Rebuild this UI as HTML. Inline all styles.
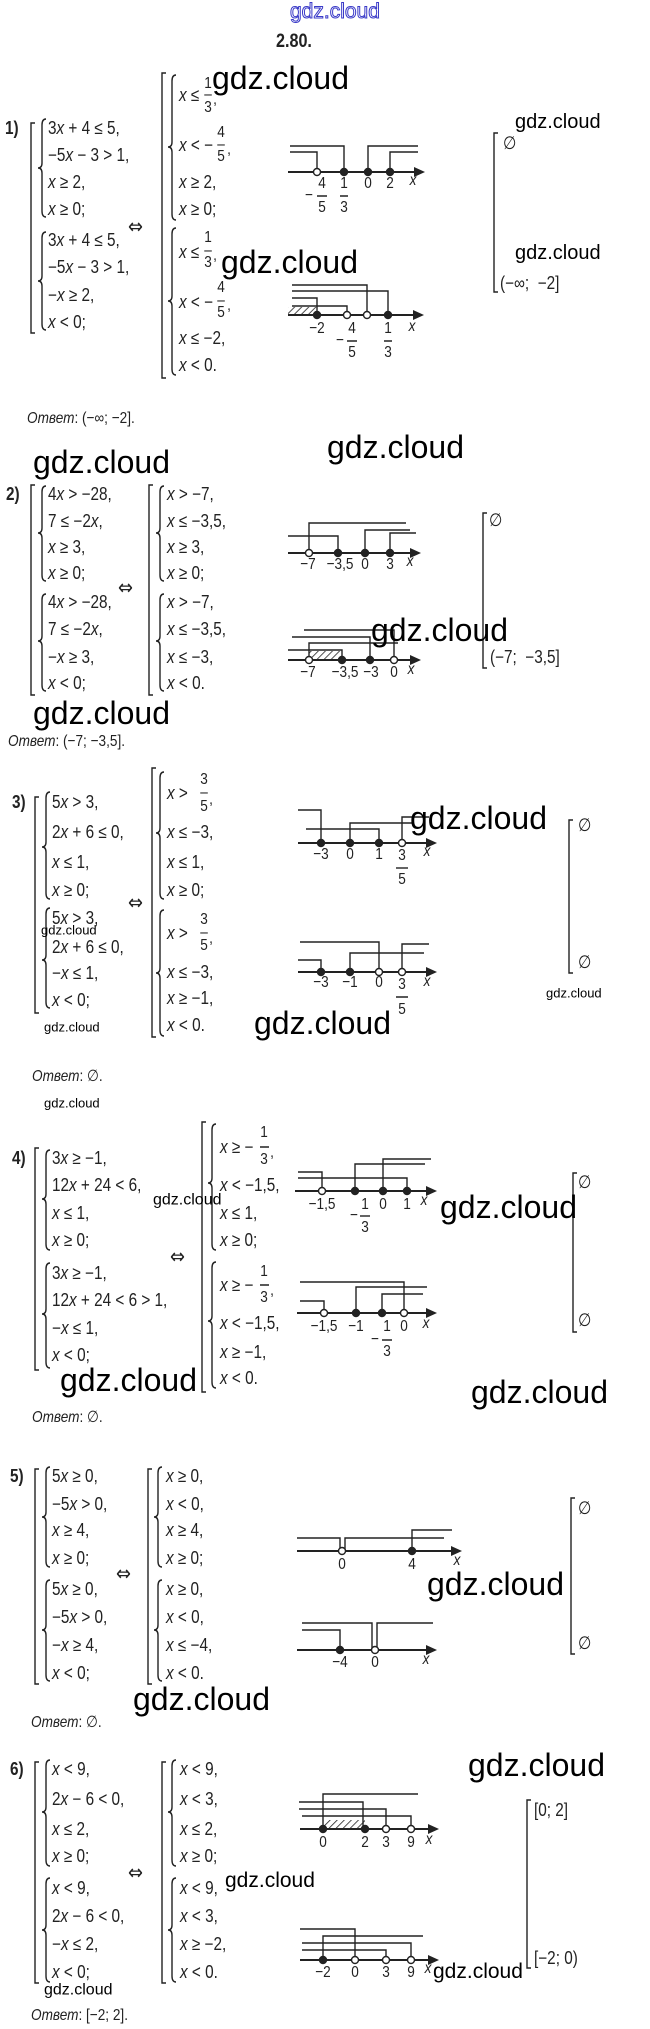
<!DOCTYPE html>
<html><head><meta charset="utf-8"><style>
html,body{margin:0;padding:0;background:#fff}
#p{position:relative;width:650px;height:2029px;overflow:hidden;background:#fff}
.f{position:absolute;font-family:"Liberation Sans",sans-serif;font-size:18px;line-height:18px;white-space:nowrap;transform:translateY(-50%) scaleX(.85);transform-origin:0 50%;color:#222}
.ar{font-family:"DejaVu Sans",sans-serif;font-size:21px;line-height:21px}
.n{position:absolute;font-family:"Liberation Sans",sans-serif;font-size:16px;line-height:16px;white-space:nowrap;transform:translate(-50%,-50%) scaleX(.85);color:#222}
.b{font-weight:bold}
.w{position:absolute;font-family:"Liberation Sans",sans-serif;font-size:32px;line-height:32px;white-space:nowrap;transform:translateY(-50%);color:#000}
.ws{position:absolute;font-family:"Liberation Sans",sans-serif;font-size:20px;line-height:20px;white-space:nowrap;transform:translateY(-50%);color:#000}
.wt{position:absolute;font-family:"Liberation Sans",sans-serif;font-size:13px;line-height:13px;white-space:nowrap;transform:translateY(-50%);color:#000}
i{font-style:italic}
svg{position:absolute;left:0;top:0}
</style></head><body><div id="p">
<svg width="650" height="2029" viewBox="0 0 650 2029">
<defs><pattern id="h" width="5" height="5" patternUnits="userSpaceOnUse" patternTransform="rotate(45)"><line x1="0" y1="0" x2="0" y2="5" stroke="#222" stroke-width="1.6"/></pattern></defs>
<g fill="none" stroke="#222" stroke-width="1.4">
<path d="M35 123H31V333H35"/><path d="M46 119Q42 119 42 125V163Q42 168 38 168Q42 168 42 173V211Q42 217 46 217"/>
<path d="M46 232Q42 232 42 238V276Q42 281 38 281Q42 281 42 286V324Q42 330 46 330"/>
<path d="M166 73H162V378H166"/><path d="M176 75Q172 75 172 81V142Q172 147 168 147Q172 147 172 152V214Q172 220 176 220"/>
<path d="M176 228Q172 228 172 234V296Q172 301 168 301Q172 301 172 306V369Q172 375 176 375"/>
<path d="M498 133H494V292H498"/>
<path d="M290 146H344V172M290 152H317V172M368 172V146H418M390 172V152H418"/>
<path d="M317 196H327M340 196H348M347 341H357M384 341H392"/>
<path d="M292 285H367V315M292 291H388V315M292 298H317V315M292 306H347V315"/>
<path d="M35 485H31V695H35"/><path d="M46 486Q42 486 42 492V528Q42 533 38 533Q42 533 42 538V575Q42 581 46 581"/>
<path d="M46 594Q42 594 42 600V636Q42 641 38 641Q42 641 42 646V685Q42 691 46 691"/>
<path d="M153 485H149V695H153"/><path d="M164 486Q160 486 160 492V528Q160 533 156 533Q160 533 160 538V575Q160 581 164 581"/>
<path d="M164 594Q160 594 160 600V636Q160 641 156 641Q160 641 160 646V685Q160 691 164 691"/>
<path d="M309 553V523H406M288 536H338V553M365 553V530H410M390 553V533H416"/>
<path d="M394 660V630H304M370 660V637H292M288 650H342V660M309 660V643H398"/>
<path d="M487 513H483V668H487"/>
<path d="M39 797H35V1013H39"/><path d="M50 792Q46 792 46 798V842Q46 847 42 847Q46 847 46 852V893Q46 899 50 899"/>
<path d="M50 908Q46 908 46 914V955Q46 960 42 960Q46 960 46 965V1002Q46 1008 50 1008"/>
<path d="M156 768H152V1037H156"/><path d="M164 772Q160 772 160 778V828Q160 833 156 833Q160 833 160 838V893Q160 899 164 899"/>
<path d="M164 910Q160 910 160 916V968Q160 973 156 973Q160 973 160 978V1030Q160 1036 164 1036"/>
<path d="M298 810H321V843M306 829H379V843M350 843V823H412M402 843V817H429"/>
<path d="M396 868H408"/>
<path d="M298 960H321V972M350 972V953H424M300 942H379V972M402 972V944H429M396 997H408"/>
<path d="M573 820H569V973H573"/>
<path d="M39 1148H35V1370H39"/><path d="M50 1150Q46 1150 46 1156V1194Q46 1199 42 1199Q46 1199 46 1204V1244Q46 1250 50 1250"/>
<path d="M50 1263Q46 1263 46 1269V1309Q46 1314 42 1314Q46 1314 46 1319V1362Q46 1368 50 1368"/>
<path d="M206 1122H202V1392H206"/><path d="M216 1124Q212 1124 212 1130V1178Q212 1183 208 1183Q212 1183 212 1188V1244Q212 1250 216 1250"/>
<path d="M216 1262Q212 1262 212 1268V1316Q212 1321 208 1321Q212 1321 212 1326V1382Q212 1388 216 1388"/>
<path d="M260 1147H269M260 1285H269"/>
<path d="M383 1191V1159H431M355 1191V1164H425M298 1172H322V1191M298 1178H407V1191"/>
<path d="M360 1216H370"/>
<path d="M300 1282H404V1313M356 1313V1287H427M382 1313V1294H423M300 1301H324V1313M382 1340H392"/>
<path d="M577 1173H573V1332H577"/>
<path d="M39 1469H35V1684H39"/><path d="M50 1467Q46 1467 46 1473V1512Q46 1517 42 1517Q46 1517 46 1522V1561Q46 1567 50 1567"/>
<path d="M50 1580Q46 1580 46 1586V1625Q46 1630 42 1630Q46 1630 46 1635V1675Q46 1681 50 1681"/>
<path d="M152 1469H148V1684H152"/><path d="M162 1467Q158 1467 158 1473V1512Q158 1517 154 1517Q158 1517 158 1522V1561Q158 1567 162 1567"/>
<path d="M162 1580Q158 1580 158 1586V1625Q158 1630 154 1630Q158 1630 158 1635V1675Q158 1681 162 1681"/>
<path d="M297 1538H340V1551M345 1551V1538H444M412 1551V1530H452"/>
<path d="M302 1623H372V1650M377 1650V1623H433M302 1630H340V1650"/>
<path d="M575 1498H571V1654H575"/>
<path d="M39 1762H35V1983H39"/><path d="M50 1760Q46 1760 46 1766V1807Q46 1812 42 1812Q46 1812 46 1817V1860Q46 1866 50 1866"/>
<path d="M50 1878Q46 1878 46 1884V1925Q46 1930 42 1930Q46 1930 46 1935V1976Q46 1982 50 1982"/>
<path d="M166 1762H162V1983H166"/><path d="M176 1760Q172 1760 172 1766V1807Q172 1812 168 1812Q172 1812 172 1817V1860Q172 1866 176 1866"/>
<path d="M176 1878Q172 1878 172 1884V1925Q172 1930 168 1930Q172 1930 172 1935V1976Q172 1982 176 1982"/>
<path d="M323 1829V1794H418M299 1802H363V1829M299 1809H386V1829M302 1816H411V1829"/>
<path d="M300 1929H355V1960M323 1960V1936H423M302 1943H411V1960M302 1950H386V1960"/>
<path d="M531 1800H527V1968H531"/>
</g>
<rect x="288" y="307" width="29" height="8" fill="url(#h)"/>
<rect x="309" y="651" width="33" height="9" fill="url(#h)"/>
<rect x="323" y="1820" width="42" height="9" fill="url(#h)"/>
<g stroke="#222" stroke-width="2">
<line x1="288" y1="172" x2="418" y2="172"/><line x1="288" y1="315" x2="417" y2="315"/>
<line x1="288" y1="553" x2="414" y2="553"/><line x1="288" y1="660" x2="414" y2="660"/>
<line x1="298" y1="843" x2="430" y2="843"/><line x1="298" y1="972" x2="430" y2="972"/>
<line x1="295" y1="1191" x2="430" y2="1191"/><line x1="297" y1="1313" x2="430" y2="1313"/>
<line x1="297" y1="1551" x2="455" y2="1551"/><line x1="297" y1="1650" x2="430" y2="1650"/>
<line x1="300" y1="1829" x2="432" y2="1829"/><line x1="300" y1="1960" x2="432" y2="1960"/>
</g>
<g fill="#222">
<polygon points="425,172 414,167 414,177"/><polygon points="424,315 413,310 413,320"/>
<polygon points="421,553 410,548 410,558"/><polygon points="421,660 410,655 410,665"/>
<polygon points="437,843 426,838 426,848"/><polygon points="437,972 426,967 426,977"/>
<polygon points="437,1191 426,1186 426,1196"/><polygon points="437,1313 426,1308 426,1318"/>
<polygon points="462,1551 451,1546 451,1556"/><polygon points="437,1650 426,1645 426,1655"/>
<polygon points="439,1829 428,1824 428,1834"/><polygon points="439,1960 428,1955 428,1965"/>
</g>
<g stroke="#222" stroke-width="1.4">
<circle cx="317" cy="172" r="3.5" fill="#fff"/><circle cx="344" cy="172" r="3.5" fill="#222"/><circle cx="368" cy="172" r="3.5" fill="#222"/><circle cx="390" cy="172" r="3.5" fill="#222"/>
<circle cx="317" cy="315" r="3.5" fill="#222"/><circle cx="347" cy="315" r="3.5" fill="#fff"/><circle cx="367" cy="315" r="3.5" fill="#fff"/><circle cx="388" cy="315" r="3.5" fill="#222"/>
<circle cx="309" cy="553" r="3.5" fill="#fff"/><circle cx="338" cy="553" r="3.5" fill="#222"/><circle cx="365" cy="553" r="3.5" fill="#222"/><circle cx="390" cy="553" r="3.5" fill="#222"/>
<circle cx="309" cy="660" r="3.5" fill="#fff"/><circle cx="342" cy="660" r="3.5" fill="#222"/><circle cx="370" cy="660" r="3.5" fill="#222"/><circle cx="394" cy="660" r="3.5" fill="#fff"/>
<circle cx="321" cy="843" r="3.5" fill="#222"/><circle cx="350" cy="843" r="3.5" fill="#222"/><circle cx="379" cy="843" r="3.5" fill="#222"/><circle cx="402" cy="843" r="3.5" fill="#fff"/>
<circle cx="321" cy="972" r="3.5" fill="#222"/><circle cx="350" cy="972" r="3.5" fill="#222"/><circle cx="379" cy="972" r="3.5" fill="#fff"/><circle cx="402" cy="972" r="3.5" fill="#fff"/>
<circle cx="322" cy="1191" r="3.5" fill="#fff"/><circle cx="355" cy="1191" r="3.5" fill="#222"/><circle cx="383" cy="1191" r="3.5" fill="#222"/><circle cx="407" cy="1191" r="3.5" fill="#222"/>
<circle cx="324" cy="1313" r="3.5" fill="#fff"/><circle cx="356" cy="1313" r="3.5" fill="#222"/><circle cx="382" cy="1313" r="3.5" fill="#222"/><circle cx="404" cy="1313" r="3.5" fill="#fff"/>
<circle cx="342" cy="1551" r="3.5" fill="#fff"/><circle cx="412" cy="1551" r="3.5" fill="#222"/>
<circle cx="340" cy="1650" r="3.5" fill="#222"/><circle cx="375" cy="1650" r="3.5" fill="#fff"/>
<circle cx="323" cy="1829" r="3.5" fill="#222"/><circle cx="365" cy="1829" r="3.5" fill="#222"/><circle cx="386" cy="1829" r="3.5" fill="#fff"/><circle cx="411" cy="1829" r="3.5" fill="#fff"/>
<circle cx="323" cy="1960" r="3.5" fill="#222"/><circle cx="355" cy="1960" r="3.5" fill="#fff"/><circle cx="386" cy="1960" r="3.5" fill="#fff"/><circle cx="411" cy="1960" r="3.5" fill="#fff"/>
</g>
</svg>

<div class="ws" style="left:290px;top:12px;color:#fff;-webkit-text-stroke:1px #3a3ac8;font-size:21px">gdz.cloud</div>
<div class="f b" style="left:276px;top:42px;font-size:19px">2.80.</div>

<div class="f b" style="left:5px;top:128px">1)</div>
<div class="f" style="left:48px;top:128px">3<i>x</i> + 4 ≤ 5,</div>
<div class="f" style="left:48px;top:155px">−5<i>x</i> − 3 &gt; 1,</div>
<div class="f" style="left:48px;top:182px"><i>x</i> ≥ 2,</div>
<div class="f" style="left:48px;top:209px"><i>x</i> ≥ 0;</div>
<div class="f" style="left:48px;top:240px">3<i>x</i> + 4 ≤ 5,</div>
<div class="f" style="left:48px;top:267px">−5<i>x</i> − 3 &gt; 1,</div>
<div class="f" style="left:48px;top:295px">−<i>x</i> ≥ 2,</div>
<div class="f" style="left:48px;top:322px"><i>x</i> &lt; 0;</div>
<div class="f ar" style="left:128px;top:227px">⇔</div>
<div class="f" style="left:179px;top:95px"><i>x</i> ≤ </div><div class="n" style="left:208px;top:84px">1</div><div class="n" style="left:208px;top:95px">–</div><div class="n" style="left:208px;top:108px">3</div><div class="n" style="left:215px;top:100px">,</div>
<div class="f" style="left:179px;top:145px"><i>x</i> &lt; −</div><div class="n" style="left:221px;top:133px">4</div><div class="n" style="left:221px;top:145px">–</div><div class="n" style="left:221px;top:157px">5</div><div class="n" style="left:229px;top:150px">,</div>
<div class="f" style="left:179px;top:182px"><i>x</i> ≥ 2,</div>
<div class="f" style="left:179px;top:209px"><i>x</i> ≥ 0;</div>
<div class="f" style="left:179px;top:252px"><i>x</i> ≤ </div><div class="n" style="left:208px;top:238px">1</div><div class="n" style="left:208px;top:251px">–</div><div class="n" style="left:208px;top:263px">3</div><div class="n" style="left:215px;top:256px">,</div>
<div class="f" style="left:179px;top:302px"><i>x</i> &lt; −</div><div class="n" style="left:221px;top:288px">4</div><div class="n" style="left:221px;top:301px">–</div><div class="n" style="left:221px;top:313px">5</div><div class="n" style="left:229px;top:306px">,</div>
<div class="f" style="left:179px;top:338px"><i>x</i> ≤ −2,</div>
<div class="f" style="left:179px;top:365px"><i>x</i> &lt; 0.</div>
<div class="n" style="left:322px;top:184px">4</div><div class="n" style="left:309px;top:196px">−</div><div class="n" style="left:322px;top:208px">5</div>
<div class="n" style="left:344px;top:184px">1</div><div class="n" style="left:344px;top:208px">3</div>
<div class="n" style="left:368px;top:184px">0</div><div class="n" style="left:390px;top:184px">2</div><div class="n" style="left:413px;top:181px"><i>x</i></div>
<div class="n" style="left:317px;top:329px">−2</div>
<div class="n" style="left:352px;top:329px">4</div><div class="n" style="left:340px;top:341px">−</div><div class="n" style="left:352px;top:353px">5</div>
<div class="n" style="left:388px;top:329px">1</div><div class="n" style="left:388px;top:353px">3</div><div class="n" style="left:412px;top:327px"><i>x</i></div>
<div class="f" style="left:503px;top:143px">∅</div>
<div class="f" style="left:500px;top:283px">(−∞;&nbsp; −2]</div>
<div class="ws" style="left:515px;top:122px">gdz.cloud</div>
<div class="ws" style="left:515px;top:253px">gdz.cloud</div>
<div class="w" style="left:212px;top:78px">gdz.cloud</div>
<div class="w" style="left:221px;top:262px">gdz.cloud</div>
<div class="f" style="left:27px;top:419px;font-size:16px"><i>Ответ</i>: (−∞; −2].</div>

<div class="w" style="left:33px;top:462px">gdz.cloud</div>
<div class="w" style="left:327px;top:447px">gdz.cloud</div>
<div class="f b" style="left:6px;top:494px">2)</div>
<div class="f" style="left:48px;top:494px">4<i>x</i> &gt; −28,</div>
<div class="f" style="left:48px;top:521px">7 ≤ −2<i>x</i>,</div>
<div class="f" style="left:48px;top:547px"><i>x</i> ≥ 3,</div>
<div class="f" style="left:48px;top:573px"><i>x</i> ≥ 0;</div>
<div class="f" style="left:48px;top:602px">4<i>x</i> &gt; −28,</div>
<div class="f" style="left:48px;top:629px">7 ≤ −2<i>x</i>,</div>
<div class="f" style="left:48px;top:657px">−<i>x</i> ≥ 3,</div>
<div class="f" style="left:48px;top:683px"><i>x</i> &lt; 0;</div>
<div class="f ar" style="left:118px;top:588px">⇔</div>
<div class="f" style="left:167px;top:494px"><i>x</i> &gt; −7,</div>
<div class="f" style="left:167px;top:521px"><i>x</i> ≤ −3,5,</div>
<div class="f" style="left:167px;top:547px"><i>x</i> ≥ 3,</div>
<div class="f" style="left:167px;top:573px"><i>x</i> ≥ 0;</div>
<div class="f" style="left:167px;top:602px"><i>x</i> &gt; −7,</div>
<div class="f" style="left:167px;top:629px"><i>x</i> ≤ −3,5,</div>
<div class="f" style="left:167px;top:657px"><i>x</i> ≤ −3,</div>
<div class="f" style="left:167px;top:683px"><i>x</i> &lt; 0.</div>
<div class="n" style="left:308px;top:565px">−7</div><div class="n" style="left:340px;top:565px">−3,5</div><div class="n" style="left:365px;top:565px">0</div><div class="n" style="left:390px;top:565px">3</div><div class="n" style="left:410px;top:562px"><i>x</i></div>
<div class="n" style="left:308px;top:673px">−7</div><div class="n" style="left:345px;top:673px">−3,5</div><div class="n" style="left:371px;top:673px">−3</div><div class="n" style="left:394px;top:673px">0</div><div class="n" style="left:411px;top:670px"><i>x</i></div>
<div class="w" style="left:371px;top:630px">gdz.cloud</div>
<div class="f" style="left:489px;top:520px">∅</div>
<div class="f" style="left:490px;top:657px">(−7;&nbsp; −3,5]</div>
<div class="w" style="left:33px;top:713px">gdz.cloud</div>
<div class="f" style="left:8px;top:742px;font-size:16px"><i>Ответ</i>: (−7; −3,5].</div>

<div class="f b" style="left:12px;top:802px">3)</div>
<div class="f" style="left:52px;top:802px">5<i>x</i> &gt; 3,</div>
<div class="f" style="left:52px;top:832px">2<i>x</i> + 6 ≤ 0,</div>
<div class="f" style="left:52px;top:862px"><i>x</i> ≤ 1,</div>
<div class="f" style="left:52px;top:890px"><i>x</i> ≥ 0;</div>
<div class="f" style="left:52px;top:918px">5<i>x</i> &gt; 3,</div>
<div class="f" style="left:52px;top:947px">2<i>x</i> + 6 ≤ 0,</div>
<div class="f" style="left:52px;top:973px">−<i>x</i> ≤ 1,</div>
<div class="f" style="left:52px;top:1000px"><i>x</i> &lt; 0;</div>
<div class="wt" style="left:41px;top:930px">gdz.cloud</div>
<div class="f ar" style="left:128px;top:903px">⇔</div>
<div class="f" style="left:167px;top:793px"><i>x</i> &gt;</div><div class="n" style="left:204px;top:780px">3</div><div class="n" style="left:204px;top:793px">–</div><div class="n" style="left:204px;top:807px">5</div><div class="n" style="left:211px;top:800px">,</div>
<div class="f" style="left:167px;top:832px"><i>x</i> ≤ −3,</div>
<div class="f" style="left:167px;top:862px"><i>x</i> ≤ 1,</div>
<div class="f" style="left:167px;top:890px"><i>x</i> ≥ 0;</div>
<div class="f" style="left:167px;top:933px"><i>x</i> &gt;</div><div class="n" style="left:204px;top:920px">3</div><div class="n" style="left:204px;top:933px">–</div><div class="n" style="left:204px;top:946px">5</div><div class="n" style="left:211px;top:939px">,</div>
<div class="f" style="left:167px;top:972px"><i>x</i> ≤ −3,</div>
<div class="f" style="left:167px;top:998px"><i>x</i> ≥ −1,</div>
<div class="f" style="left:167px;top:1025px"><i>x</i> &lt; 0.</div>
<div class="n" style="left:321px;top:855px">−3</div><div class="n" style="left:350px;top:855px">0</div><div class="n" style="left:379px;top:855px">1</div><div class="n" style="left:402px;top:856px">3</div><div class="n" style="left:402px;top:880px">5</div><div class="n" style="left:427px;top:852px"><i>x</i></div>
<div class="n" style="left:321px;top:983px">−3</div><div class="n" style="left:350px;top:983px">−1</div><div class="n" style="left:379px;top:983px">0</div><div class="n" style="left:402px;top:985px">3</div><div class="n" style="left:402px;top:1010px">5</div><div class="n" style="left:427px;top:982px"><i>x</i></div>
<div class="w" style="left:410px;top:818px">gdz.cloud</div>
<div class="f" style="left:578px;top:825px">∅</div>
<div class="f" style="left:578px;top:962px">∅</div>
<div class="wt" style="left:546px;top:993px">gdz.cloud</div>
<div class="w" style="left:254px;top:1023px">gdz.cloud</div>
<div class="wt" style="left:44px;top:1027px">gdz.cloud</div>
<div class="f" style="left:32px;top:1077px;font-size:16px"><i>Ответ</i>: ∅.</div>
<div class="wt" style="left:44px;top:1103px">gdz.cloud</div>

<div class="f b" style="left:12px;top:1158px">4)</div>
<div class="f" style="left:52px;top:1158px">3<i>x</i> ≥ −1,</div>
<div class="f" style="left:52px;top:1185px">12<i>x</i> + 24 &lt; 6,</div>
<div class="f" style="left:52px;top:1213px"><i>x</i> ≤ 1,</div>
<div class="f" style="left:52px;top:1240px"><i>x</i> ≥ 0;</div>
<div class="f" style="left:52px;top:1273px">3<i>x</i> ≥ −1,</div>
<div class="f" style="left:52px;top:1300px">12<i>x</i> + 24 &lt; 6 &gt; 1,</div>
<div class="f" style="left:52px;top:1328px">−<i>x</i> ≤ 1,</div>
<div class="f" style="left:52px;top:1355px"><i>x</i> &lt; 0;</div>
<div class="wt" style="left:153px;top:1200px;font-size:16px">gdz.cloud</div>
<div class="f ar" style="left:170px;top:1257px">⇔</div>
<div class="f" style="left:220px;top:1147px"><i>x</i> ≥ −</div><div class="n" style="left:264px;top:1133px">1</div><div class="n" style="left:264px;top:1160px">3</div><div class="n" style="left:272px;top:1153px">,</div>
<div class="f" style="left:220px;top:1185px"><i>x</i> &lt; −1,5,</div>
<div class="f" style="left:220px;top:1213px"><i>x</i> ≤ 1,</div>
<div class="f" style="left:220px;top:1240px"><i>x</i> ≥ 0;</div>
<div class="f" style="left:220px;top:1285px"><i>x</i> ≥ −</div><div class="n" style="left:264px;top:1272px">1</div><div class="n" style="left:264px;top:1298px">3</div><div class="n" style="left:272px;top:1291px">,</div>
<div class="f" style="left:220px;top:1323px"><i>x</i> &lt; −1,5,</div>
<div class="f" style="left:220px;top:1352px"><i>x</i> ≥ −1,</div>
<div class="f" style="left:220px;top:1378px"><i>x</i> &lt; 0.</div>
<div class="n" style="left:322px;top:1205px">−1,5</div><div class="n" style="left:354px;top:1216px">−</div><div class="n" style="left:365px;top:1205px">1</div><div class="n" style="left:365px;top:1228px">3</div><div class="n" style="left:383px;top:1205px">0</div><div class="n" style="left:407px;top:1205px">1</div><div class="n" style="left:424px;top:1201px"><i>x</i></div>
<div class="n" style="left:324px;top:1327px">−1,5</div><div class="n" style="left:356px;top:1327px">−1</div><div class="n" style="left:375px;top:1340px">−</div><div class="n" style="left:387px;top:1327px">1</div><div class="n" style="left:387px;top:1352px">3</div><div class="n" style="left:404px;top:1327px">0</div><div class="n" style="left:426px;top:1324px"><i>x</i></div>
<div class="w" style="left:440px;top:1207px">gdz.cloud</div>
<div class="f" style="left:578px;top:1182px">∅</div>
<div class="f" style="left:578px;top:1320px">∅</div>
<div class="w" style="left:60px;top:1380px">gdz.cloud</div>
<div class="w" style="left:471px;top:1392px">gdz.cloud</div>
<div class="f" style="left:32px;top:1418px;font-size:16px"><i>Ответ</i>: ∅.</div>

<div class="f b" style="left:10px;top:1476px">5)</div>
<div class="f" style="left:52px;top:1476px">5<i>x</i> ≥ 0,</div>
<div class="f" style="left:52px;top:1504px">−5<i>x</i> &gt; 0,</div>
<div class="f" style="left:52px;top:1530px"><i>x</i> ≥ 4,</div>
<div class="f" style="left:52px;top:1558px"><i>x</i> ≥ 0;</div>
<div class="f" style="left:52px;top:1589px">5<i>x</i> ≥ 0,</div>
<div class="f" style="left:52px;top:1617px">−5<i>x</i> &gt; 0,</div>
<div class="f" style="left:52px;top:1645px">−<i>x</i> ≥ 4,</div>
<div class="f" style="left:52px;top:1673px"><i>x</i> &lt; 0;</div>
<div class="f ar" style="left:116px;top:1574px">⇔</div>
<div class="f" style="left:166px;top:1476px"><i>x</i> ≥ 0,</div>
<div class="f" style="left:166px;top:1504px"><i>x</i> &lt; 0,</div>
<div class="f" style="left:166px;top:1530px"><i>x</i> ≥ 4,</div>
<div class="f" style="left:166px;top:1558px"><i>x</i> ≥ 0;</div>
<div class="f" style="left:166px;top:1589px"><i>x</i> ≥ 0,</div>
<div class="f" style="left:166px;top:1617px"><i>x</i> &lt; 0,</div>
<div class="f" style="left:166px;top:1645px"><i>x</i> ≤ −4,</div>
<div class="f" style="left:166px;top:1673px"><i>x</i> &lt; 0.</div>
<div class="n" style="left:342px;top:1565px">0</div><div class="n" style="left:412px;top:1565px">4</div><div class="n" style="left:457px;top:1561px"><i>x</i></div>
<div class="n" style="left:340px;top:1663px">−4</div><div class="n" style="left:375px;top:1663px">0</div><div class="n" style="left:426px;top:1660px"><i>x</i></div>
<div class="w" style="left:427px;top:1584px">gdz.cloud</div>
<div class="f" style="left:578px;top:1508px">∅</div>
<div class="f" style="left:578px;top:1643px">∅</div>
<div class="w" style="left:133px;top:1699px">gdz.cloud</div>
<div class="f" style="left:31px;top:1723px;font-size:16px"><i>Ответ</i>: ∅.</div>

<div class="f b" style="left:10px;top:1769px">6)</div>
<div class="f" style="left:52px;top:1769px"><i>x</i> &lt; 9,</div>
<div class="f" style="left:52px;top:1799px">2<i>x</i> − 6 &lt; 0,</div>
<div class="f" style="left:52px;top:1829px"><i>x</i> ≤ 2,</div>
<div class="f" style="left:52px;top:1856px"><i>x</i> ≥ 0;</div>
<div class="f" style="left:52px;top:1888px"><i>x</i> &lt; 9,</div>
<div class="f" style="left:52px;top:1916px">2<i>x</i> − 6 &lt; 0,</div>
<div class="f" style="left:52px;top:1944px">−<i>x</i> ≤ 2,</div>
<div class="f" style="left:52px;top:1972px"><i>x</i> &lt; 0;</div>
<div class="f ar" style="left:128px;top:1873px">⇔</div>
<div class="f" style="left:180px;top:1769px"><i>x</i> &lt; 9,</div>
<div class="f" style="left:180px;top:1799px"><i>x</i> &lt; 3,</div>
<div class="f" style="left:180px;top:1829px"><i>x</i> ≤ 2,</div>
<div class="f" style="left:180px;top:1856px"><i>x</i> ≥ 0;</div>
<div class="f" style="left:180px;top:1888px"><i>x</i> &lt; 9,</div>
<div class="f" style="left:180px;top:1916px"><i>x</i> &lt; 3,</div>
<div class="f" style="left:180px;top:1944px"><i>x</i> ≥ −2,</div>
<div class="f" style="left:180px;top:1972px"><i>x</i> &lt; 0.</div>
<div class="w" style="left:468px;top:1765px">gdz.cloud</div>
<div class="n" style="left:323px;top:1843px">0</div><div class="n" style="left:365px;top:1843px">2</div><div class="n" style="left:386px;top:1843px">3</div><div class="n" style="left:411px;top:1843px">9</div><div class="n" style="left:429px;top:1840px"><i>x</i></div>
<div class="ws" style="left:225px;top:1881px;font-size:21px">gdz.cloud</div>
<div class="n" style="left:323px;top:1973px">−2</div><div class="n" style="left:355px;top:1973px">0</div><div class="n" style="left:386px;top:1973px">3</div><div class="n" style="left:411px;top:1973px">9</div><div class="n" style="left:428px;top:1969px"><i>x</i></div>
<div class="ws" style="left:433px;top:1972px;font-size:21px">gdz.cloud</div>
<div class="f" style="left:534px;top:1810px">[0; 2]</div>
<div class="f" style="left:534px;top:1958px">[−2; 0)</div>
<div class="wt" style="left:44px;top:1990px;font-size:16px">gdz.cloud</div>
<div class="f" style="left:31px;top:2016px;font-size:16px"><i>Ответ</i>: [−2; 2].</div>
</div></body></html>
